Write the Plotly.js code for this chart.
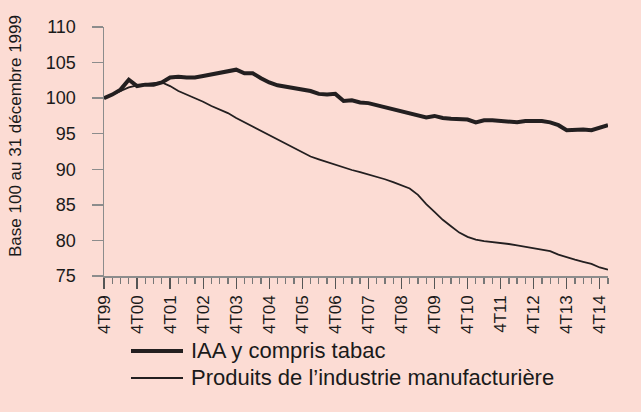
<!DOCTYPE html>
<html>
<head>
<meta charset="utf-8">
<script src="https://cdn.plot.ly/plotly-3.0.1.min.js"></script>
<style>html,body{margin:0;padding:0;background:#FCDCD4;}#chart{width:641px;height:412px;}</style>
</head>
<body>
<div id="chart"></div>
<script>
// Quarters from 4T99 to 1T15
var quarters = ["4T99","1T00","2T00","3T00","4T00","1T01","2T01","3T01","4T01","1T02","2T02","3T02","4T02",
  "1T03","2T03","3T03","4T03","1T04","2T04","3T04","4T04","1T05","2T05","3T05","4T05",
  "1T06","2T06","3T06","4T06","1T07","2T07","3T07","4T07","1T08","2T08","3T08","4T08",
  "1T09","2T09","3T09","4T09","1T10","2T10","3T10","4T10","1T11","2T11","3T11","4T11",
  "1T12","2T12","3T12","4T12","1T13","2T13","3T13","4T13","1T14","2T14","3T14","4T14","1T15"];
var tickLabels = ["4T99","4T00","4T01","4T02","4T03","4T04","4T05","4T06","4T07","4T08","4T09","4T10","4T11","4T12","4T13","4T14"];
var iaaValues = [100.0,100.5,101.2,102.6,101.7,101.9,101.9,102.2,102.9,103.0,102.9,102.9,103.1,
  103.3,103.6,103.8,104.0,103.5,103.5,102.8,102.2,101.8,101.6,101.4,101.2,
  101.0,100.6,100.5,100.6,99.6,99.7,99.4,99.3,99.0,98.8,98.4,98.1,
  97.9,97.5,97.3,97.5,97.2,97.1,97.0,97.0,96.6,96.9,96.9,96.8,
  96.7,96.6,96.8,96.8,96.8,96.6,96.2,95.5,95.6,95.6,95.5,95.8,96.2];
var manufValues = [100.0,100.5,101.0,101.5,101.8,102.0,102.1,102.2,101.7,101.0,100.5,100.1,99.5,
  98.9,98.4,97.9,97.2,96.6,96.0,95.3,94.7,94.1,93.5,92.9,92.3,
  91.8,91.4,91.0,90.7,90.2,89.9,89.6,89.3,89.0,88.6,88.2,87.8,
  87.3,86.4,85.1,84.0,82.9,82.0,81.1,80.5,80.1,79.9,79.8,79.7,
  79.5,79.3,79.1,79.0,78.8,78.5,78.0,77.6,77.3,77.0,76.7,76.2,75.9];
var seriesNames = ["IAA y compris tabac", "Produits de l\u2019industrie manufacturi\u00e8re"];
var yTitle = "Base 100 au 31 d\u00e9cembre 1999";

var xIdx = quarters.map(function(q, i){ return i; });
var tickVals = tickLabels.map(function(t){ return quarters.indexOf(t); });

var FONT = "Liberation Sans, Arial, sans-serif";
var INK = "#231f20";
var AX = "#8c8c8c";

var traces = [
  {x: xIdx, y: manufValues, text: quarters, type: "scatter", mode: "lines", name: seriesNames[1],
   line: {color: INK, width: 1.8}, showlegend: false, hoverinfo: "text+y"},
  {x: xIdx, y: iaaValues, text: quarters, type: "scatter", mode: "lines", name: seriesNames[0],
   line: {color: INK, width: 4}, showlegend: false, hoverinfo: "text+y"}
];

var L = 104, R = 608, T = 27, B = 276;
function px(X){ return (X - L) / (R - L); }
function py(Y){ return (B - Y) / (B - T); }

var layout = {
  width: 641, height: 412,
  margin: {l: L, r: 641 - R, t: T, b: 412 - B, pad: 0},
  paper_bgcolor: "#FCDCD4", plot_bgcolor: "#FCDCD4",
  font: {family: FONT, size: 18, color: "#1a1a1a"},
  xaxis: {
    range: [0, 61], tickmode: "array", tickvals: tickVals, ticktext: tickLabels,
    tickangle: -90, ticks: "outside", ticklen: 11, tickwidth: 1.3, tickcolor: "#555",
    showline: true, linecolor: AX, linewidth: 1.5, showgrid: false, zeroline: false,
    tickfont: {family: FONT, size: 17, color: "#1a1a1a"}, ticklabelstandoff: 0,
    minor: {tickmode: "linear", tick0: 0, dtick: 1, ticks: "outside", ticklen: 6, tickwidth: 1.3, tickcolor: "#777", showgrid: false}
  },
  yaxis: {
    range: [75, 110], dtick: 5, tick0: 75, ticks: "outside", ticklen: 11, tickwidth: 1.3, tickcolor: AX,
    showline: true, linecolor: AX, linewidth: 1.5, showgrid: false, zeroline: false,
    tickfont: {family: FONT, size: 18, color: "#1a1a1a"}, ticklabelstandoff: 12
  },
  shapes: [
    {type: "line", xref: "paper", yref: "paper", x0: px(131), x1: px(183), y0: py(351), y1: py(351),
     line: {color: INK, width: 4}},
    {type: "line", xref: "paper", yref: "paper", x0: px(131), x1: px(183), y0: py(378), y1: py(378),
     line: {color: INK, width: 1.8}}
  ],
  annotations: [
    {text: yTitle, xref: "paper", yref: "paper", x: px(15), y: py(136), textangle: -90,
     showarrow: false, xanchor: "center", yanchor: "middle", font: {family: FONT, size: 17, color: "#1a1a1a"}},
    {text: seriesNames[0], xref: "paper", yref: "paper", x: px(189), y: py(350), xanchor: "left", yanchor: "middle",
     showarrow: false, font: {family: FONT, size: 22, color: "#1a1a1a"}},
    {text: seriesNames[1], xref: "paper", yref: "paper", x: px(189), y: py(377), xanchor: "left", yanchor: "middle",
     showarrow: false, font: {family: FONT, size: 22, color: "#1a1a1a"}}
  ]
};

Plotly.newPlot("chart", traces, layout, {displayModeBar: false, staticPlot: true});
</script>
</body>
</html>
